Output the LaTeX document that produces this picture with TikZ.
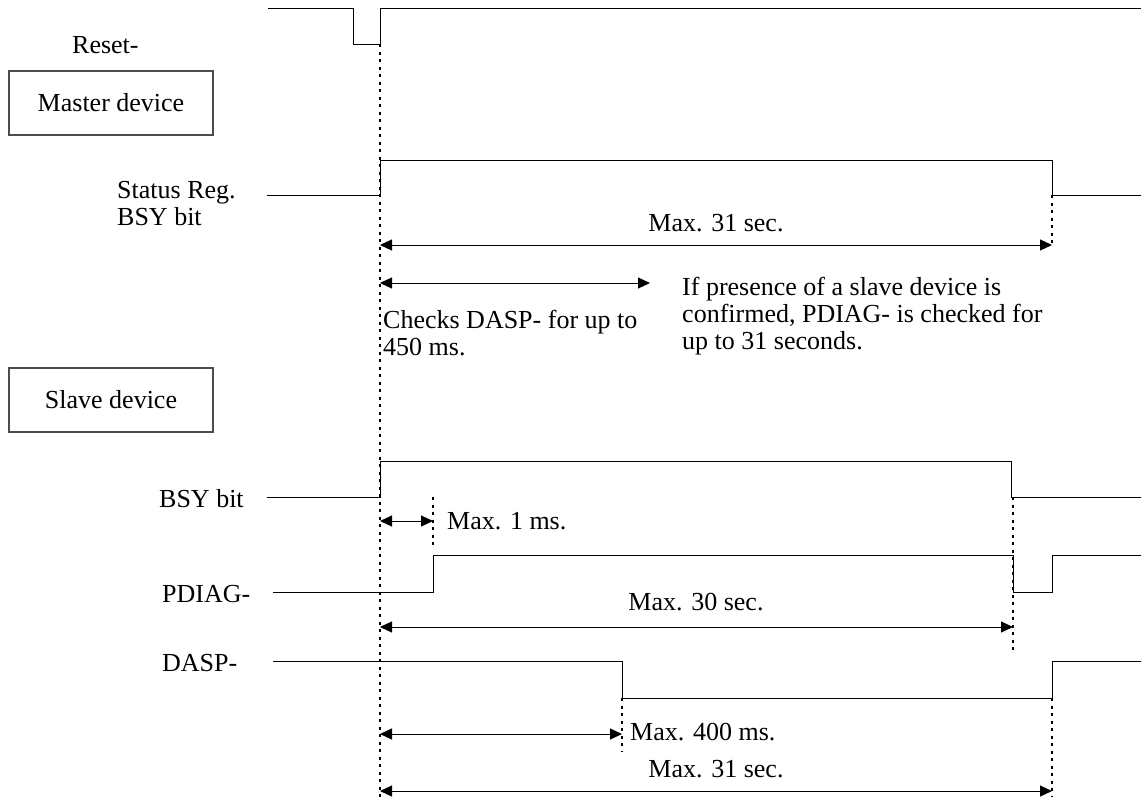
\documentclass[tikz,border=0pt]{standalone}
\usepackage{fontspec}
\setmainfont{Liberation Serif}
\usetikzlibrary{arrows.meta}

\tikzset{
  sig/.style={line width=1pt,line join=miter},
  dotline/.style={line width=1.8pt,dash pattern=on 3pt off 4.5pt},
  dim/.style={line width=1pt,{Triangle[length=12pt,width=11pt]}-{Triangle[length=12pt,width=11pt]}},
  lbl/.style={inner sep=0pt,anchor=base west,align=left},
  mid/.style={inner sep=0pt,anchor=base},
  devbox/.style={draw=black!70,line width=1.3pt,minimum width=204pt,minimum height=64pt,inner sep=0pt}
}

\begin{document}
\begin{tikzpicture}[x=1pt,y=-1pt,font=\fontsize{26}{27}\selectfont]
  \useasboundingbox (0,0) rectangle (1141,801);

  % device boxes and signal names
  \node[devbox] (master) at (111,103) {Master device};
  \node[devbox] (slave) at (111,400) {Slave device};
  \node[lbl] (reset) at (72,53) {Reset-};
  \node[lbl] (stat) at (117,225) {Status Reg.\\BSY bit};
  \node[lbl] (sbsy) at (159,507) {BSY bit};
  \node[lbl] (pdiag) at (162,602) {PDIAG-};
  \node[lbl] (dasp) at (162,671) {DASP-};

  % waveforms
  \draw[sig] (268,8) -- (353,8) -- (353,44) -- (380,44) -- (380,8) -- (1141,8);
  \draw[sig] (267,195) -- (380,195) -- (380,160) -- (1052,160) -- (1052,195) -- (1141,195);
  \draw[sig] (267,497) -- (380,497) -- (380,461) -- (1011,461) -- (1011,497) -- (1141,497);
  \draw[sig] (273,592) -- (433,592) -- (433,555) -- (1013,555) -- (1013,592)
    -- (1052,592) -- (1052,555) -- (1141,555);
  \draw[sig] (273,661) -- (622,661) -- (622,698) -- (1052,698) -- (1052,661) -- (1141,661);

  % time marks
  \coordinate (t0) at (380,44);
  \coordinate (t1) at (433,497);
  \coordinate (t2) at (622,698);
  \coordinate (t3) at (1013,497);
  \coordinate (t4) at (1052,195);
  \coordinate (t5) at (1052,698);
  \draw[dotline] (t0) -- (380,799);
  \draw[dotline] (t4) -- (1052,245);
  \draw[dotline] (t1) -- (433,547);
  \draw[dotline] (t3) -- (1013,652);
  \draw[dotline] (t2) -- (622,752);
  \draw[dotline] (t5) -- (1052,797);

  % master timing
  \draw[dim] (t0 |- 0,245) -- (t4 |- 0,245);
  \node[mid] (m31a) at (716,231) {Max. 31 sec.};
  \draw[dim] (t0 |- 0,283) -- (650,283);
  \node[lbl] (chk) at (383,355) {Checks DASP- for up to\\450 ms.};
  \node[lbl] (note) at (682,349) {If presence of a slave device is\\confirmed, PDIAG- is checked for\\up to 31 seconds.};

  % slave timing
  \draw[dim] (t0 |- 0,521) -- (t1 |- 0,521);
  \node[lbl] (m1) at (447,529) {Max. 1 ms.};
  \draw[dim] (t0 |- 0,627) -- (t3 |- 0,627);
  \node[mid] (m30) at (696,610) {Max. 30 sec.};
  \draw[dim] (t0 |- 0,734) -- (t2 |- 0,734);
  \node[lbl] (m400) at (630,740) {Max. 400 ms.};
  \draw[dim] (t0 |- 0,791) -- (t5 |- 0,791);
  \node[mid] (m31b) at (716,777) {Max. 31 sec.};
\end{tikzpicture}
\end{document}
